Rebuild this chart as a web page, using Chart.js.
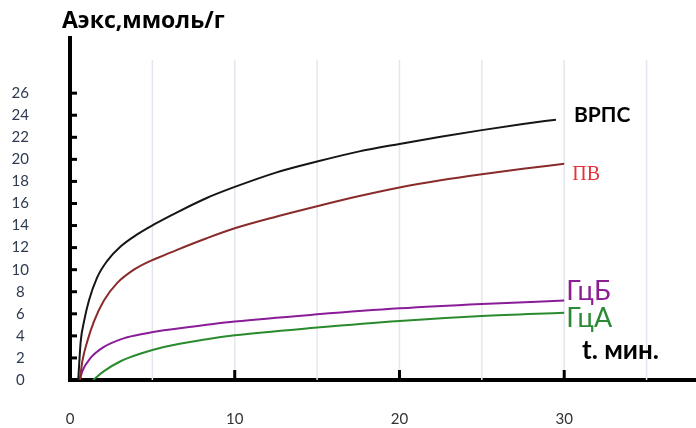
<!DOCTYPE html>
<html>
<head>
<meta charset="utf-8">
<script src="https://cdn.jsdelivr.net/npm/chart.js@4.4.1/dist/chart.umd.min.js"></script>
<style>
    html, body { margin: 0; padding: 0; background: #fff; }
    #wrap { width: 696px; height: 428px; position: relative; }
</style>
</head>
<body>
<div id="wrap"><canvas id="kinChart"></canvas></div>
<script>
// время, мин и обменная ёмкость для каждой кривой
const vrpsT = [0.5, 0.65, 0.85, 1.15, 1.65, 2.26, 3.07, 4.08, 5.1, 6.5, 8.3, 10, 12.5, 15, 17.5, 20, 22.5, 25, 27.5, 29.5];
const vrpsA = [0, 3.5, 5.3, 7.2, 9.3, 10.8, 12.1, 13.2, 14.1, 15.2, 16.5, 17.5, 18.8, 19.8, 20.7, 21.4, 22.05, 22.65, 23.2, 23.6];

const pvT = [0.6, 0.75, 1.05, 1.45, 2.06, 2.87, 3.88, 4.89, 5.7, 6.5, 8.3, 10, 12.5, 15, 17.5, 20, 22.5, 25, 27.5, 30];
const pvA = [0, 1.7, 3.5, 5.3, 7.2, 8.8, 10.0, 10.8, 11.3, 11.8, 12.85, 13.75, 14.8, 15.75, 16.65, 17.45, 18.1, 18.65, 19.15, 19.6];

const gcbT = [0.6, 0.75, 1.25, 2.06, 3.3, 4.5, 5.7, 8.3, 10, 15, 20, 25, 30];
const gcbA = [0, 0.8, 2.0, 3.0, 3.8, 4.2, 4.5, 5.0, 5.3, 5.95, 6.5, 6.9, 7.2];

const gcaT = [1.4, 2.06, 3.07, 4.3, 5.7, 8.3, 10, 15, 20, 25, 30];
const gcaA = [0, 0.8, 1.7, 2.4, 3.0, 3.7, 4.05, 4.75, 5.35, 5.8, 6.1];

const seriesNames = ['ВРПС', 'ПВ', 'ГцБ', 'ГцА'];
const xTickLabels = [0, 10, 20, 30];
const yTickMax = 26;

function toPoints(ts, vals) {
    return ts.map((t, i) => ({ x: t, y: vals[i] }));
}

// сетка, засечки на осях и подписи
const extrasPlugin = {
    id: 'extras',
    beforeDatasetsDraw(chart) {
        const { ctx, scales: { x, y } } = chart;
        ctx.save();
        ctx.strokeStyle = '#e4e6ef';
        ctx.lineWidth = 1.5;
        for (let t = 5; t <= 35; t += 5) {
            const px = x.getPixelForValue(t);
            ctx.beginPath();
            ctx.moveTo(px, y.getPixelForValue(29));
            ctx.lineTo(px, y.getPixelForValue(0));
            ctx.stroke();
        }
        ctx.restore();
    },
    afterDraw(chart) {
        const { ctx, scales: { x, y } } = chart;
        ctx.save();
        ctx.strokeStyle = '#000';
        ctx.lineWidth = 3;
        const ax = x.getPixelForValue(0);
        for (let v = 2; v <= yTickMax; v += 2) {
            const py = y.getPixelForValue(v);
            ctx.beginPath();
            ctx.moveTo(ax, py);
            ctx.lineTo(ax + 7, py);
            ctx.stroke();
        }
        const ay = y.getPixelForValue(0);
        [10, 20, 30].forEach(t => {
            const px = x.getPixelForValue(t);
            ctx.beginPath();
            ctx.moveTo(px, ay);
            ctx.lineTo(px, ay - 10);
            ctx.stroke();
        });

        ctx.textBaseline = 'middle';
        ctx.textAlign = 'left';

        ctx.fillStyle = '#000';
        ctx.font = 'bold 23px "Open Sans"';
        ctx.fillText('Аэкс,ммоль/г', 62, 21);

        ctx.font = 'bold 26px Lato';
        ctx.fillText('t. мин.', 582, 351);

        // подписи у концов кривых
        const ends = [
            { name: seriesNames[0], t: 29.5, v: 23.6, dx: 18, dy: -4, font: 'bold 21px Lato', color: '#000' },
            { name: seriesNames[1], t: 30, v: 19.6, dx: 8, dy: 11, font: '20px "Liberation Serif"', color: '#e8323a' },
            { name: seriesNames[2], t: 30, v: 7.2, dx: 2, dy: -9, font: '27px Lato', color: '#8b1f92' },
            { name: seriesNames[3], t: 30, v: 6.1, dx: 2, dy: 6, font: '27px Lato', color: '#2b8a35' }
        ];
        ends.forEach(e => {
            ctx.font = e.font;
            ctx.fillStyle = e.color;
            ctx.fillText(e.name, x.getPixelForValue(e.t) + e.dx, y.getPixelForValue(e.v) + e.dy);
        });
        ctx.restore();
    }
};

const lineOpts = {
    borderWidth: 2,
    pointRadius: 0,
    fill: false,
    cubicInterpolationMode: 'monotone'
};

new Chart(document.getElementById('kinChart').getContext('2d'), {
    type: 'line',
    data: {
        datasets: [
            { ...lineOpts, label: seriesNames[0], data: toPoints(vrpsT, vrpsA), borderColor: '#151515' },
            { ...lineOpts, label: seriesNames[1], data: toPoints(pvT, pvA), borderColor: '#8a2b2b' },
            { ...lineOpts, label: seriesNames[2], data: toPoints(gcbT, gcbA), borderColor: '#8a1c98' },
            { ...lineOpts, label: seriesNames[3], data: toPoints(gcaT, gcaA), borderColor: '#2a8a2e' }
        ]
    },
    options: {
        responsive: true,
        maintainAspectRatio: false,
        animation: false,
        layout: { padding: { top: 38, left: 0, right: 0, bottom: 0 } },
        plugins: {
            legend: { display: false },
            tooltip: { enabled: false }
        },
        scales: {
            x: {
                type: 'linear',
                min: 0,
                max: 38,
                afterFit: s => {
                    s.height = 48;
                    s.paddingLeft = 0;
                    s.paddingRight = 0;
                },
                afterBuildTicks: s => { s.ticks = xTickLabels.map(v => ({ value: v })); },
                grid: { display: false, drawTicks: false },
                border: { display: true, color: '#000', width: 4 },
                ticks: {
                    padding: 30,
                    color: '#333',
                    font: { family: 'Lato', size: 15 },
                    maxRotation: 0
                }
            },
            y: {
                min: 0,
                max: 31,
                afterFit: s => {
                    s.width = 70;
                    s.paddingTop = 0;
                    s.paddingBottom = 0;
                },
                afterBuildTicks: s => {
                    const arr = [];
                    for (let v = 0; v <= yTickMax; v += 2) arr.push({ value: v });
                    s.ticks = arr;
                },
                grid: { display: false, drawTicks: false },
                border: { display: true, color: '#000', width: 4 },
                ticks: {
                    padding: 41,
                    crossAlign: 'center',
                    color: '#2e3a50',
                    font: { family: 'Lato', size: 15 }
                }
            }
        }
    },
    plugins: [extrasPlugin]
});
</script>
</body>
</html>
